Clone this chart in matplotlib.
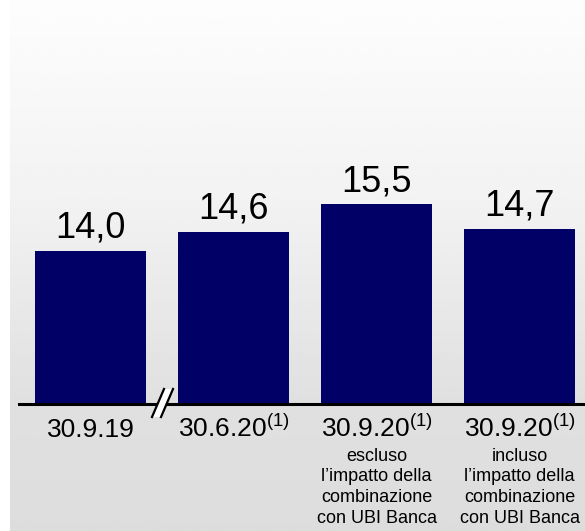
import numpy as np
import matplotlib
matplotlib.use('Agg')
import matplotlib.pyplot as plt
import matplotlib.transforms as mtransforms
from matplotlib.patches import Polygon

plt.rcParams['font.family'] = ['Liberation Sans', 'DejaVu Sans']
plt.rcParams['mathtext.fontset'] = 'custom'
plt.rcParams['mathtext.rm'] = 'Liberation Sans'

# Data
categories = ['30.9.19', '30.6.20$^{\\mathrm{(1)}}$', '30.9.20$^{\\mathrm{(1)}}$', '30.9.20$^{\\mathrm{(1)}}$']
sub_labels = ['', '', "escluso\nl\u2019impatto della\ncombinazione\ncon UBI Banca",
              "incluso\nl\u2019impatto della\ncombinazione\ncon UBI Banca"]
values = [14.0, 14.6, 15.5, 14.7]
value_labels = ['14,0', '14,6', '15,5', '14,7']

BAR_COLOR = '#000066'
Y_MIN, Y_MAX = 9.0, 22.16

fig = plt.figure(figsize=(5.85, 5.31), dpi=100)
W, H = 585, 531

# Background gradient panel
bg = fig.add_axes([10 / W, 0, 1 - 10 / W, 1], zorder=0)
rows = np.linspace(0, 531, 200)
shade = np.interp(rows, [0, 200, 400, 531], [253, 242, 224, 221]) / 255.0
grad = np.repeat(shade[:, None], 2, axis=1)
bg.imshow(grad, cmap='gray', vmin=0, vmax=1, aspect='auto', extent=[0, 1, 0, 1],
          origin='upper', interpolation='bilinear')
bg.axis('off')

ax = fig.add_axes([19 / W, (H - 404) / H, (W - 19) / W, 404 / H], zorder=1)
ax.patch.set_visible(False)

x = np.arange(len(values))
ax.bar(x, values, width=0.78, color=BAR_COLOR, bottom=0)
ax.set_xlim(-0.5, 3.458)
ax.set_ylim(Y_MIN, Y_MAX)

for spine in ['top', 'right', 'left']:
    ax.spines[spine].set_visible(False)
ax.spines['bottom'].set_linewidth(2.2)
ax.spines['bottom'].set_zorder(3)
ax.set_yticks([])
ax.set_xticks([])

# Value labels above bars
for xi, v, lab in zip(x, values, value_labels):
    ax.annotate(lab, xy=(xi, v), xytext=(0, 9.5), textcoords='offset points',
                ha='center', va='baseline', fontsize=26, color='black')

# Category labels below baseline
trans = mtransforms.blended_transform_factory(ax.transData, ax.transAxes)
for xi, cat, sub in zip(x, categories, sub_labels):
    ax.annotate(cat, xy=(xi, 0), xycoords=trans, xytext=(0, -24),
                textcoords='offset points', ha='center', va='baseline', fontsize=19,
                annotation_clip=False)
    if sub:
        ax.annotate(sub, xy=(xi, 0), xycoords=trans, xytext=(0, -31.5),
                    textcoords='offset points', ha='center', va='top', fontsize=13,
                    linespacing=1.28, annotation_clip=False)

# Axis break marker between first and second bar
brk = fig.dpi_scale_trans + mtransforms.ScaledTranslation(0.5, Y_MIN, ax.transData)
px = 1 / 100.0
pts = np.array([[-10, -13], [-1, -13], [11, 15], [2, 15]]) * px
ax.add_patch(Polygon(pts, closed=True, facecolor='white', edgecolor='none',
                     transform=brk, zorder=5, clip_on=False))
ax.plot(pts[[0, 3], 0], pts[[0, 3], 1], color='black', lw=1.6, transform=brk,
        zorder=6, clip_on=False)
ax.plot(pts[[1, 2], 0], pts[[1, 2], 1], color='black', lw=1.6, transform=brk,
        zorder=6, clip_on=False)

fig.savefig('out.png', dpi=100)
